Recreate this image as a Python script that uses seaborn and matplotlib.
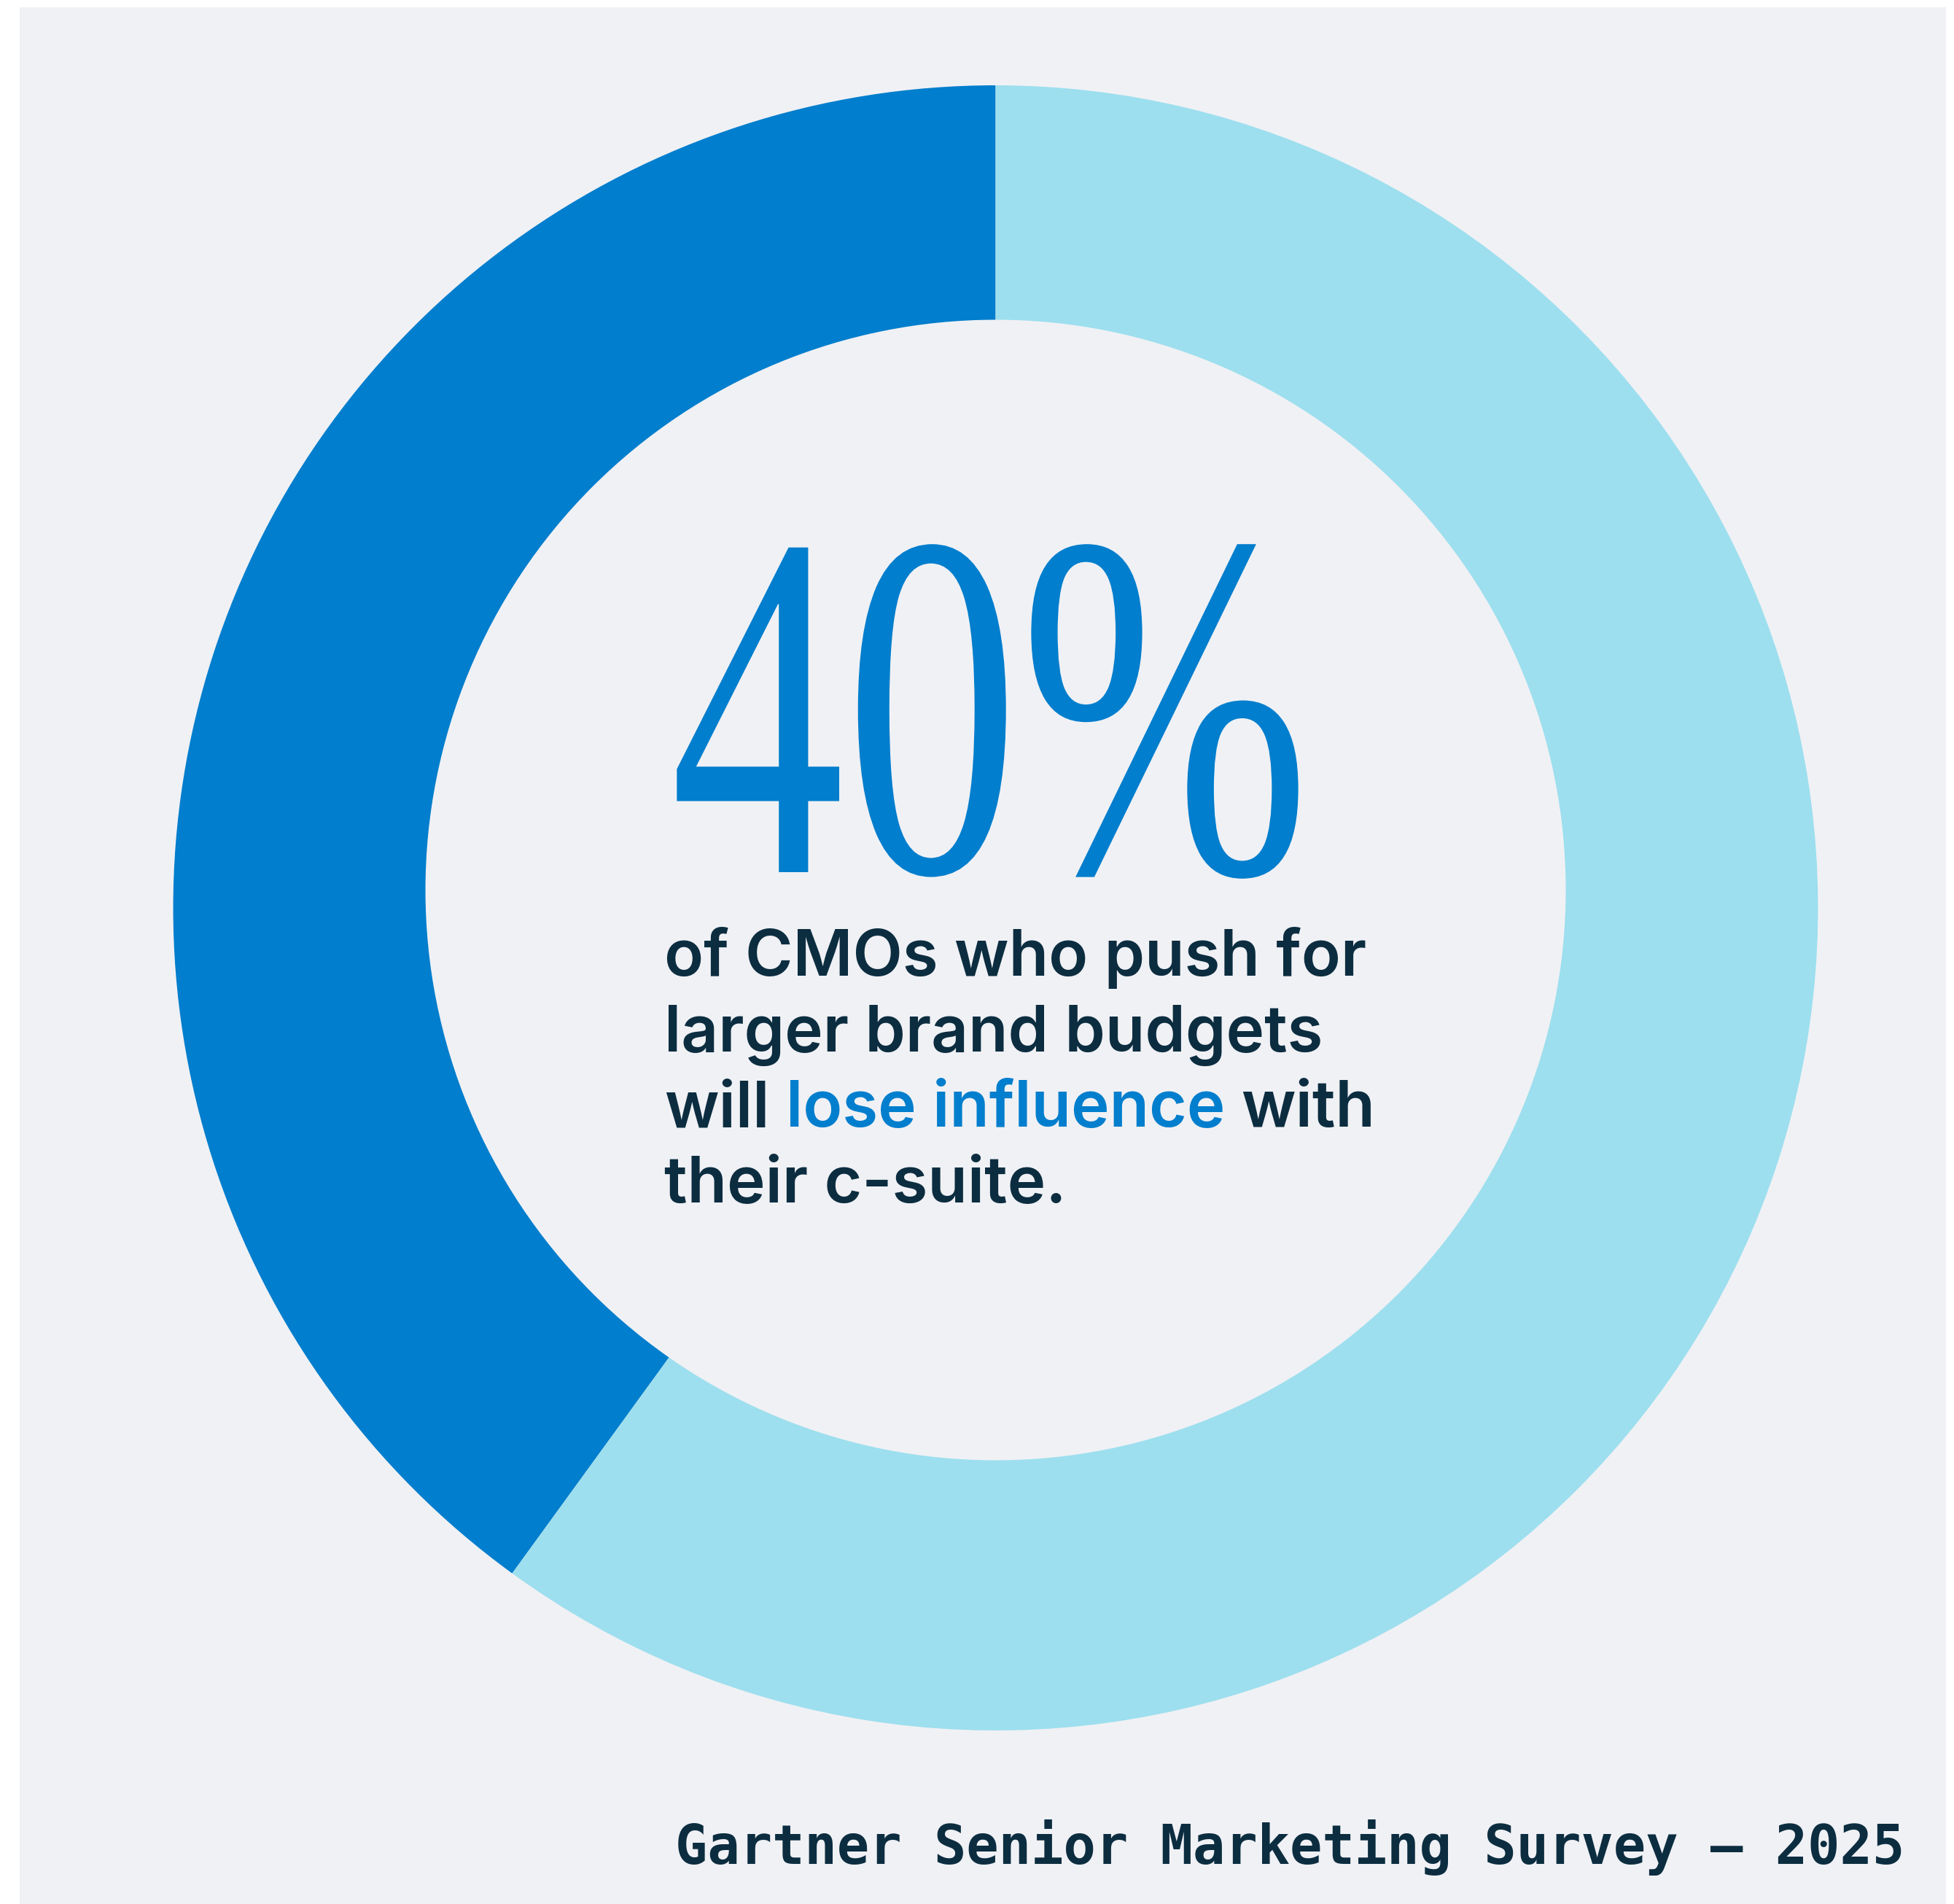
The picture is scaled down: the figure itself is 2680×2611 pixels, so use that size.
import matplotlib
matplotlib.use("Agg")
import matplotlib.pyplot as plt
import seaborn as sns
from matplotlib.patches import Circle, Rectangle
from matplotlib.patheffects import AbstractPathEffect
from matplotlib.transforms import Affine2D

# ---- data -------------------------------------------------------------
segments = ["Will lose influence", "Others"]
shares = [40, 60]
headline = "40%"
body_lines = ["of CMOs who push for", "larger brand budgets"]
highlight_line = ["will", "lose influence", "with"]
last_line = "their c-suite."
source = "Gartner Senior Marketing Survey – 2025"

# ---- style ------------------------------------------------------------
DARK_BLUE = "#017ECD"
LIGHT_BLUE = "#9DDFEE"
PANEL = "#F0F1F5"
INK = "#0C2D40"

sns.set_theme(style="white")
plt.rcParams["font.family"] = ["Inter", "DejaVu Sans"]

W, H = 2680, 2611
fig = plt.figure(figsize=(W / 100, H / 100), dpi=100, facecolor="white")
fig.add_artist(Rectangle((27 / W, 0), 2642 / W, 2601 / H, transform=fig.transFigure,
                         facecolor=PANEL, edgecolor="none", zorder=0))

# axes in pixel units: x = pixel from left, y = pixel from bottom
ax = fig.add_axes([27 / W, 0, 2642 / W, 2601 / H])
ax.patch.set_visible(False)

ax.pie(shares, labels=None, colors=[DARK_BLUE, LIGHT_BLUE], startangle=90,
       counterclock=True, radius=1128, center=(1365.5, 1366), frame=True,
       wedgeprops=dict(linewidth=0, edgecolor="none", antialiased=True))
ax.add_patch(Circle((1365.5, 1390.5), 782, facecolor=PANEL, edgecolor="none", zorder=2))
ax.set_xlim(27, 2669)
ax.set_ylim(0, 2601)
ax.set_aspect("auto")
ax.axis("off")

renderer = fig.canvas.get_renderer()


def text_width(s, **kw):
    t = ax.text(0, 0, s, **kw)
    w = t.get_window_extent(renderer).width
    t.remove()
    return w


class Condense(AbstractPathEffect):
    """Squeeze glyph outlines horizontally around a fixed anchor."""

    def __init__(self, factor, anchor):
        super().__init__()
        self.factor = factor
        self.anchor = anchor

    def draw_path(self, renderer, gc, tpath, affine, rgbFace=None):
        x0 = ax.transData.transform(self.anchor)[0]
        squeeze = Affine2D().translate(-x0, 0).scale(self.factor, 1).translate(x0, 0)
        renderer.draw_path(gc, tpath, affine + squeeze, rgbFace)


# big headline figure
head_kw = dict(fontsize=487, family=["Liberation Serif", "DejaVu Serif"], color=DARK_BLUE)
head_pos = (919, 1415)
factor = 878 / text_width(headline, **head_kw)
ax.text(*head_pos, headline, ha="left", va="baseline", zorder=3,
        path_effects=[Condense(factor, head_pos)], **head_kw)

# statement lines
body_kw = dict(fontsize=64, fontweight="semibold", color=INK)
x0 = 911
baselines = [1273, 1169, 1066, 962]
for line, y in zip(body_lines, baselines[:2]):
    ax.text(x0, y, line, ha="left", va="baseline", zorder=3, **body_kw)

full3 = " ".join(highlight_line)
w_full = text_width(full3, **body_kw)
w_first_two = text_width(" ".join(highlight_line[:2]), **body_kw)
x_mid = x0 + w_first_two - text_width(highlight_line[1], **body_kw)
x_last = x0 + w_full - text_width(highlight_line[2], **body_kw)
ax.text(x0, baselines[2], highlight_line[0], ha="left", va="baseline", zorder=3, **body_kw)
ax.text(x_mid, baselines[2], highlight_line[1], ha="left", va="baseline", zorder=3,
        **{**body_kw, "color": DARK_BLUE})
ax.text(x_last, baselines[2], highlight_line[2], ha="left", va="baseline", zorder=3, **body_kw)
ax.text(x0, baselines[3], last_line, ha="left", va="baseline", zorder=3, **body_kw)

# source line
ax.text(2612, 55, source, ha="right", va="baseline", fontsize=53, fontweight="bold",
        family=["DejaVu Sans Mono"], color=INK, zorder=3)

fig.savefig("out.png", dpi=100, facecolor="white")
